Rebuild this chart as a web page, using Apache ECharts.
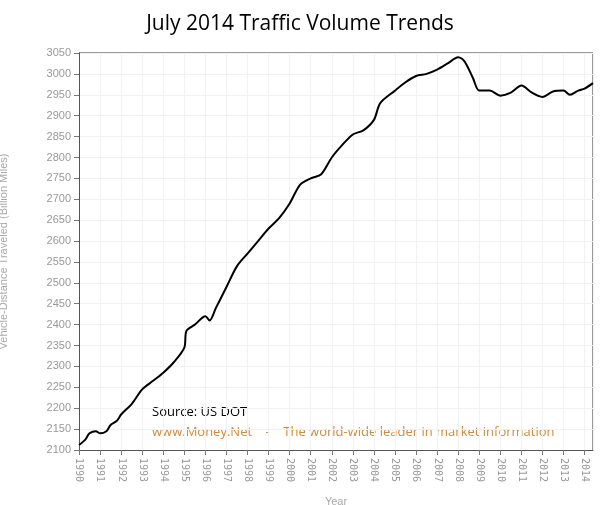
<!DOCTYPE html>
<html>
<head>
<script src="https://cdn.jsdelivr.net/npm/echarts@6/dist/echarts.min.js"></script>
</head>
<body style="margin:0">
<div id="chart" style="width:600px;height:505px;"></div>
<script>
// date (decimal year) and VMT in billion miles
var years = [1990.0,1990.3,1990.5,1990.8,1991.0,1991.3,1991.5,1991.8,1992.0,1992.5,1993.0,1993.5,1994.0,1994.5,1995.0,1995.1,1995.5,1996.0,1996.2,1996.5,1997.0,1997.5,1998.0,1998.5,1999.0,1999.5,2000.0,2000.5,2001.0,2001.5,2002.0,2002.5,2003.0,2003.5,2004.0,2004.3,2005.0,2005.5,2006.0,2006.5,2007.0,2007.5,2008.0,2008.3,2008.7,2009.0,2009.5,2010.0,2010.5,2011.0,2011.5,2012.0,2012.5,2013.0,2013.3,2013.7,2014.0,2014.4];
var vmt = [2112,2125,2140,2145,2140,2145,2160,2170,2185,2210,2245,2265,2285,2310,2345,2385,2400,2420,2410,2440,2490,2540,2570,2600,2630,2655,2690,2735,2750,2760,2800,2830,2855,2865,2890,2930,2960,2980,2995,3000,3010,3025,3040,3030,2990,2960,2960,2948,2955,2972,2955,2945,2958,2960,2950,2960,2965,2978];

var chart = echarts.init(document.getElementById('chart'));
chart.setOption({
  animation: false,
  backgroundColor: '#fff',
  title: { text: 'July 2014 Traffic Volume Trends', left: 'center', top: 2,
    textStyle: { fontFamily: 'Open Sans', fontWeight: 'normal', fontSize: 21, color: '#000' } },
  grid: { left: 79, right: 7, top: 53, bottom: 55, containLabel: false, outerBoundsMode: 'none' },
  xAxis: {
    type: 'value', min: 1990, max: 2014.4, interval: 1,
    name: 'Year', nameLocation: 'middle', nameGap: 42,
    nameTextStyle: { color: '#aaa', fontSize: 11 },
    axisLine: { lineStyle: { color: '#555' } },
    axisTick: { lineStyle: { color: '#777' } },
    splitLine: { lineStyle: { color: '#f2f2f2' } },
    axisLabel: { rotate: -90, color: '#999', fontSize: 10, fontFamily: 'DejaVu Sans Mono', showMaxLabel: false,
      formatter: function (v) { return String(v); } }
  },
  yAxis: {
    type: 'value', min: 2100, max: 3050, interval: 50,
    name: 'Vehicle-Distance Traveled (Billion Miles)', nameLocation: 'middle', nameGap: 66,
    nameTextStyle: { color: '#aaa', fontSize: 11 },
    axisLine: { show: true, lineStyle: { color: '#555' } },
    axisTick: { show: true, lineStyle: { color: '#777' } },
    splitLine: { lineStyle: { color: '#f2f2f2' } },
    axisLabel: { color: '#999', fontSize: 11, formatter: function (v) { return String(v); } }
  },
  graphic: [
    { type: 'text', left: 152, top: 402, style: { text: 'Source: US DOT', fontSize: 13, fontFamily: 'Open Sans', fill: '#000' } },
    { type: 'text', left: 152, top: 422, style: { text: 'www.Money.Net    -    The world-wide leader in market information', fontSize: 13, fontFamily: 'Open Sans', fill: '#d08a3c' } },
    { type: 'line', shape: { x1: 79, y1: 53, x2: 593, y2: 53 }, style: { stroke: '#333', lineWidth: 1 } },
    { type: 'line', shape: { x1: 593, y1: 53, x2: 593, y2: 450 }, style: { stroke: '#333', lineWidth: 1 } }
  ],
  series: [{
    type: 'line', showSymbol: false, smooth: 0.3,
    lineStyle: { color: '#000', width: 2 },
    data: years.map(function (y, i) { return [y, vmt[i]]; })
  }]
});
</script>
</body>
</html>
